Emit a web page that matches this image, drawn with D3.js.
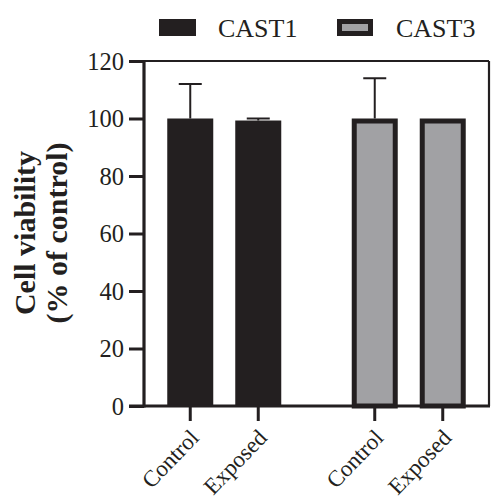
<!DOCTYPE html>
<html>
<head>
<meta charset="utf-8">
<script src="https://cdn.jsdelivr.net/npm/d3@7/dist/d3.min.js"></script>
<style>
html,body{margin:0;padding:0;background:#fff;}
svg{display:block;}
text{font-family:"Liberation Serif","Times New Roman",serif;fill:#231f20;}
</style>
</head>
<body>
<script>
// ---- data ----
const groups = ["CAST1", "CAST3"];
const conditions = ["Control", "Exposed"];
const cast1Means = [100, 99.3];
const cast1Errors = [12, 0.7];
const cast3Means = [100, 100];
const cast3Errors = [14, 0];
const yTicks = [0, 20, 40, 60, 80, 100, 120];
const yLabelLines = ["Cell viability", "(% of control)"];

const seriesMeans = {CAST1: cast1Means, CAST3: cast3Means};
const seriesErrors = {CAST1: cast1Errors, CAST3: cast3Errors};
const fills = {CAST1: "#231f20", CAST3: "#a1a1a4"};
const ink = "#231f20";

const W = 491, H = 503;
const svg = d3.select("body").append("svg").attr("width", W).attr("height", H);

const pLeft = 144, pRight = 489, pTop = 61, pBottom = 406;

const y = d3.scaleLinear().domain([0, 120]).range([pBottom, pTop]);
const x0 = d3.scalePoint().domain(groups).range([pLeft, pRight]).padding(0.435);
const x1 = d3.scalePoint().domain(conditions).range([-34, 34]);
const barW = 46;

const rows = [];
groups.forEach(g => conditions.forEach((c, i) => rows.push({
  g, c, mean: seriesMeans[g][i], err: seriesErrors[g][i], cx: x0(g) + x1(c)
})));

// frame top and right
svg.append("line").attr("x1", pLeft).attr("x2", pRight).attr("y1", pTop).attr("y2", pTop)
  .attr("stroke", ink).attr("stroke-width", 2.2);
svg.append("line").attr("x1", pRight).attr("x2", pRight).attr("y1", pTop).attr("y2", pBottom)
  .attr("stroke", ink).attr("stroke-width", 2.2);

// error bars (upward only)
rows.filter(d => d.err > 0).forEach(d => {
  const g = svg.append("g").attr("stroke", ink).attr("stroke-width", 2);
  g.append("line").attr("x1", d.cx).attr("x2", d.cx).attr("y1", y(d.mean)).attr("y2", y(d.mean + d.err));
  g.append("line").attr("x1", d.cx - 11.5).attr("x2", d.cx + 11.5).attr("y1", y(d.mean + d.err)).attr("y2", y(d.mean + d.err));
});

// bars
rows.forEach(d => {
  if (d.g === "CAST1") {
    svg.append("rect").attr("x", d.cx - barW / 2).attr("width", barW)
      .attr("y", y(d.mean)).attr("height", y(0) - y(d.mean)).attr("fill", fills[d.g]);
  } else {
    const sw = 5;
    svg.append("rect").attr("x", d.cx - barW / 2 + sw / 2).attr("width", barW - sw)
      .attr("y", y(d.mean) + sw / 2).attr("height", y(0) - y(d.mean) - sw / 2)
      .attr("fill", fills[d.g]).attr("stroke", ink).attr("stroke-width", sw);
  }
});

// y axis
const yAxis = svg.append("g").attr("transform", `translate(${pLeft},0)`)
  .call(d3.axisLeft(y).tickValues(yTicks).tickSize(15).tickPadding(5));
yAxis.select(".domain").attr("stroke", ink).attr("stroke-width", 3.2)
  .attr("d", `M0,${pTop - 1}V${pBottom + 1.5}`);
yAxis.selectAll(".tick line").attr("stroke", ink).attr("stroke-width", 3);
yAxis.selectAll(".tick text").attr("font-size", 24.5)
  .attr("fill", ink).attr("dy", "0.34em");

// x axis
svg.append("line").attr("x1", pLeft - 15).attr("x2", pRight + 1).attr("y1", pBottom).attr("y2", pBottom)
  .attr("stroke", ink).attr("stroke-width", 3);
rows.forEach(d => {
  svg.append("line").attr("x1", d.cx).attr("x2", d.cx).attr("y1", pBottom).attr("y2", pBottom + 15)
    .attr("stroke", ink).attr("stroke-width", 3);
  svg.append("text").attr("text-anchor", "end").attr("font-size", 23)
    .attr("transform", `translate(${d.cx + 10},${pBottom + 33}) rotate(-46)`)
    .text(d.c);
});

// y label
const yl = svg.append("text").attr("transform", "translate(0,233) rotate(-90)")
  .attr("text-anchor", "middle").attr("font-weight", "bold").attr("font-size", 30);
yLabelLines.forEach((t, i) => {
  yl.append("tspan").attr("x", 0).attr("y", 35 + i * 32).text(t);
});

// legend
const legendX = [159, 337];
groups.forEach((g, i) => {
  const lg = svg.append("g").attr("transform", `translate(${legendX[i]},19)`);
  if (g === "CAST1") {
    lg.append("rect").attr("width", 37).attr("height", 17).attr("fill", fills[g]);
  } else {
    lg.append("rect").attr("x", 2.5).attr("y", 2.5).attr("width", 31).attr("height", 12)
      .attr("fill", fills[g]).attr("stroke", ink).attr("stroke-width", 5);
  }
  lg.append("text").attr("x", 59).attr("y", 17.5).attr("font-size", 26).text(g);
});
</script>
</body>
</html>
